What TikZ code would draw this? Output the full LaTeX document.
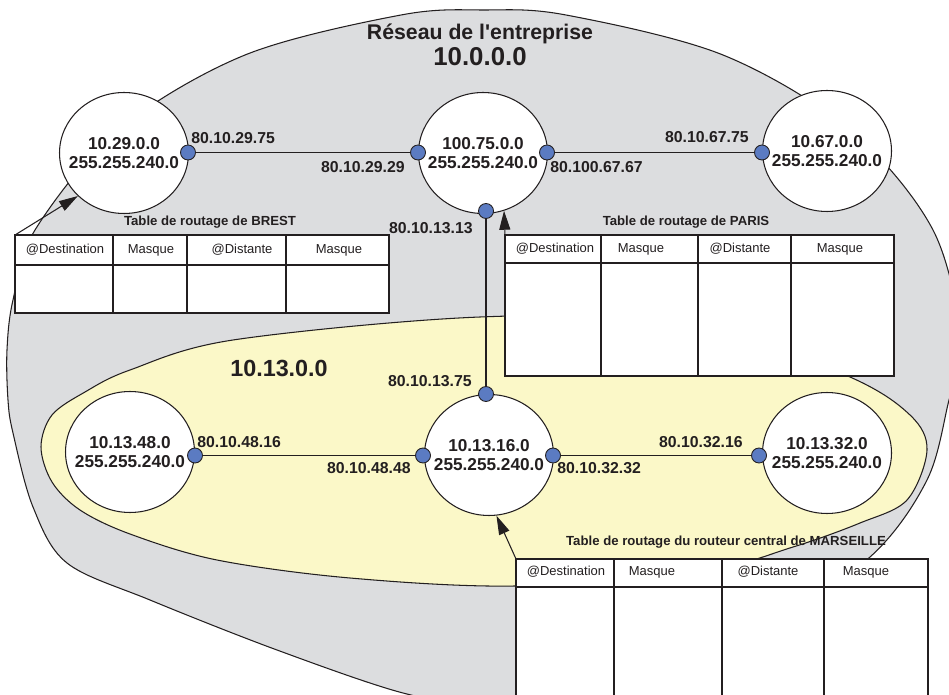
\documentclass[tikz,border=0pt]{standalone}
\usepackage{fontspec}
\setmainfont{Liberation Sans}
\usetikzlibrary{shapes.geometric,arrows.meta}
\definecolor{ink}{HTML}{231F20}
\definecolor{netgray}{HTML}{DCDDDF}
\definecolor{subnet}{HTML}{FBF8C8}
\definecolor{portblue}{HTML}{5B7BC2}

\begin{document}
\begin{tikzpicture}[x=0.02cm,y=-0.02cm,
  router/.style={ellipse, draw=ink, line width=0.6pt, fill=white,
    minimum width=2.58cm, minimum height=2.42cm, inner sep=0pt},
  rtext/.style={align=center, inner sep=0pt,
    font=\bfseries\fontsize{9.8}{10.8}\selectfont, text=ink},
  port/.style={circle, draw=ink, line width=0.5pt, fill=portblue,
    minimum size=0.3cm, inner sep=0pt},
  link/.style={draw=ink, line width=0.6pt},
  addr/.style={font=\bfseries\fontsize{9}{10}\selectfont, text=ink, inner sep=0pt},
  tabtitle/.style={font=\bfseries\fontsize{7.5}{9}\selectfont, text=ink, inner sep=0pt},
  colhead/.style={font=\fontsize{7.4}{9}\selectfont, text=ink, inner sep=0pt},
  tabline/.style={draw=ink, line width=0.8pt},
  pointer/.style={draw=ink, line width=0.6pt, -{Triangle[length=0.38cm,width=0.22cm]}},
  zone/.style={draw=ink, line width=0.6pt},
]
\useasboundingbox (0,0) rectangle (949,695);
\clip (0,0) rectangle (949,695);

% enterprise network
\path[zone, fill=netgray] plot[smooth cycle, tension=0.55] coordinates {
  (962,345) (933,230) (850,130) (723,55) (566,15) (484,10) (401,15)
  (245,55) (118,130) (35,230) (13,300) (7,350) (8,400) (13,433) (33,507)
  (67,563) (150,600) (277,650) (403,693) (480,703) (600,695) (760,630)
  (870,557) (927,480) (949,400)};

% subnet 10.13.0.0
\path[zone, fill=subnet] plot[smooth cycle, tension=0.55] coordinates {
  (41,447) (52,415) (85,392) (130,370) (233,340) (480,317) (700,322)
  (850,377) (910,415) (927,450) (907,500) (860,523) (793,547) (700,572)
  (515,586) (350,578) (217,560) (130,534) (80,510) (52,482)};

% titles
\node[font=\bfseries\fontsize{12.1}{14}\selectfont, text=ink] (title) at (480,34) {Réseau de l\textquotesingle entreprise};
\node[font=\bfseries\fontsize{14.7}{16}\selectfont, text=ink] (netaddr) at (480,57) {10.0.0.0};
\node[font=\bfseries\fontsize{13.3}{15}\selectfont, text=ink] (subaddr) at (279,368) {10.13.0.0};

% routing tables
\coordinate (brestTab) at (15,235);
\draw[tabline, fill=white] (15,235) rectangle (389,313);
\draw[tabline] (15,265) -- (389,265);
\foreach \x in {113,187,286} \draw[tabline] (\x,235) -- (\x,313);
\node[tabtitle] (brestTitle) at (210,222) {Table de routage de BREST};
\node[colhead] (bh1) at (65,250) {@Destination};
\node[colhead] (bh2) at (151,250) {Masque};
\node[colhead] (bh3) at (242,250) {@Distante};
\node[colhead] (bh4) at (339,250) {Masque};

\coordinate (parisTab) at (505,235);
\draw[tabline, fill=white] (505,235) rectangle (894,376);
\draw[tabline] (505,263) -- (894,263);
\foreach \x in {601,698,791} \draw[tabline] (\x,235) -- (\x,376);
\node[tabtitle] (parisTitle) at (686,222) {Table de routage de PARIS};
\node[colhead] (ph1) at (555,249) {@Destination};
\node[colhead] (ph2) at (641,249) {Masque};
\node[colhead] (ph3) at (740,249) {@Distante};
\node[colhead] (ph4) at (840,249) {Masque};

\coordinate (marsTab) at (516,559);
\draw[tabline, fill=white] (516,559) rectangle (928,720);
\draw[tabline] (516,587) -- (928,587);
\foreach \x in {614,722,824} \draw[tabline] (\x,559) -- (\x,720);
\node[tabtitle] (marsTitle) at (726,542) {Table de routage du routeur central de MARSEILLE};
\node[colhead] (mh1) at (566,572) {@Destination};
\node[colhead] (mh2) at (652,572) {Masque};
\node[colhead] (mh3) at (768,572) {@Distante};
\node[colhead] (mh4) at (866,572) {Masque};

% routers
\node[router, label={[rtext]center:10.29.0.0\\255.255.240.0}] (brest) at (124,153) {};
\node[router, label={[rtext]center:100.75.0.0\\255.255.240.0}] (paris) at (483,153) {};
\node[router, label={[rtext]center:10.67.0.0\\255.255.240.0}] (r67) at (827,151) {};
\node[router, label={[rtext]center:10.13.48.0\\255.255.240.0}] (r48) at (130,452) {};
\node[router, label={[rtext]center:10.13.16.0\\255.255.240.0}] (mars) at (489,455) {};
\node[router, label={[rtext]center:10.13.32.0\\255.255.240.0}] (r32) at (827,453) {};

% interfaces
\node[port] (pB)  at (188,152.5) {};
\node[port] (pPw) at (418,152.5) {};
\node[port] (pPe) at (547,152.5) {};
\node[port] (pRw) at (762,152.5) {};
\node[port] (pPs) at (486,211) {};
\node[port] (pMn) at (486,394) {};
\node[port] (pMw) at (423,455.5) {};
\node[port] (pLe) at (195,455.5) {};
\node[port] (pMe) at (553,455.5) {};
\node[port] (pSw) at (759,455.5) {};

% links
\draw[link] (pB) -- (pPw);
\draw[link] (pPe) -- (pRw);
\draw[link] (pPs) -- (pMn);
\draw[link] (pLe) -- (pMw);
\draw[link] (pMe) -- (pSw);

% table pointers
\draw[pointer] (brestTab) -- (brest.223);
\draw[pointer] (parisTab) -- (paris.-70);
\draw[pointer] (marsTab) -- (mars.-83.5);

% interface addresses
\node[addr, anchor=west] (a1) at (191,138) {80.10.29.75};
\node[addr, anchor=east] (a2) at (405,167) {80.10.29.29};
\node[addr, anchor=east] (a3) at (473,228) {80.10.13.13};
\node[addr, anchor=west] (a4) at (550,167) {80.100.67.67};
\node[addr, anchor=east] (a5) at (749,137) {80.10.67.75};
\node[addr, anchor=east] (a6) at (472,381) {80.10.13.75};
\node[addr, anchor=west] (a7) at (197,442) {80.10.48.16};
\node[addr, anchor=east] (a8) at (411,468) {80.10.48.48};
\node[addr, anchor=west] (a9) at (557,468) {80.10.32.32};
\node[addr, anchor=east] (a10) at (743,442) {80.10.32.16};
\end{tikzpicture}
\end{document}
